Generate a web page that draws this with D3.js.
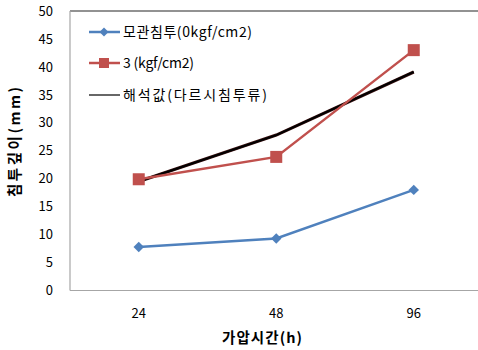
<!DOCTYPE html>
<html><head><meta charset="utf-8">
<script src="https://cdn.jsdelivr.net/npm/d3@7"></script>
<style>body{margin:0;background:#fff;} text{font-family:"Noto Sans CJK KR","Malgun Gothic",sans-serif;}</style>
</head><body>
<svg id="c" width="478" height="350"></svg>
<script>
const categories = ["24","48","96"];
const seriesNames = ["모관침투(0kgf/cm2)","3 (kgf/cm2)","해석값(다르시침투류)"];
const capillary = [7.8, 9.3, 18.0];
const pressure3 = [19.9, 23.9, 43.0];
const analytic = [19.5, 27.8, 39.1];
const yTicks = [0,5,10,15,20,25,30,35,40,45,50];

const svg = d3.select("#c");
const L = 70, R = 482.5, T = 11, B = 290.5;
const x = d3.scaleBand().domain(categories).range([L, R]);
const y = d3.scaleLinear().domain([0, 50]).range([B, T]);
const cx = d => x(d) + x.bandwidth()/2;

// frame
svg.append("line").attr("x1",L).attr("x2",R).attr("y1",T).attr("y2",T).attr("stroke","#6e6e6e").attr("stroke-width",1.5);
svg.append("line").attr("x1",L).attr("x2",L).attr("y1",T).attr("y2",B).attr("stroke","#a6a6a6").attr("stroke-width",1.2);
svg.append("line").attr("x1",L).attr("x2",R).attr("y1",B).attr("y2",B).attr("stroke","#a6a6a6").attr("stroke-width",1.2);

// y axis
const ya = svg.append("g").attr("transform",`translate(${L},0)`)
  .call(d3.axisLeft(y).tickValues(yTicks).tickSize(0).tickPadding(17));
ya.select(".domain").remove();
ya.selectAll("text").attr("font-size",13).attr("fill","#000").style("font-family","'Noto Sans CJK KR',sans-serif");

// x axis
const xa = svg.append("g").attr("transform",`translate(0,${B})`)
  .call(d3.axisBottom(x).tickSize(0).tickPadding(18));
xa.select(".domain").remove();
xa.selectAll("text").attr("font-size",13).attr("fill","#000").style("font-family","'Noto Sans CJK KR',sans-serif");

// titles
svg.append("text").attr("x",262).attr("y",343).attr("text-anchor","middle")
  .attr("font-size",14.5).attr("font-weight","bold").attr("textLength",80).text("가압시간(h)");
svg.append("text").attr("transform","translate(20,142) rotate(-90)").attr("text-anchor","middle")
  .attr("font-size",14.5).attr("font-weight","bold").attr("textLength",110).text("침투깊이(mm)");

const line = d3.line().x((d,i)=>cx(categories[i])).y(d=>y(d));

// analytic (black)
svg.append("path").datum(analytic).attr("d",line).attr("fill","none").attr("stroke","#3a1010").attr("stroke-width",3.2);
svg.append("path").datum(analytic).attr("d",line).attr("fill","none").attr("stroke","#000").attr("stroke-width",2);

// red
svg.append("path").datum(pressure3).attr("d",line).attr("fill","none").attr("stroke","#c0504d").attr("stroke-width",2.5);
svg.selectAll(".sq").data(pressure3).enter().append("rect")
  .attr("x",(d,i)=>cx(categories[i])-6).attr("y",d=>y(d)-6).attr("width",12).attr("height",12).attr("fill","#c0504d");

// blue
svg.append("path").datum(capillary).attr("d",line).attr("fill","none").attr("stroke","#4f81bd").attr("stroke-width",2.5);
svg.selectAll(".dm").data(capillary).enter().append("path")
  .attr("transform",(d,i)=>`translate(${cx(categories[i])},${y(d)}) rotate(45)`)
  .attr("d",d3.symbol().type(d3.symbolSquare).size(55)).attr("fill","#4f81bd");

// legend
const lg = svg.append("g");
const legY = [32, 63, 95];
const legCol = ["#4f81bd","#c0504d","#000"];
const legLen = [129, 71, 144];
seriesNames.forEach((n,i)=>{
  lg.append("line").attr("x1",89).attr("x2",120).attr("y1",legY[i]).attr("y2",legY[i])
    .attr("stroke",legCol[i]).attr("stroke-width", i==2?1.2:2.5);
  if(i==0) lg.append("path").attr("transform",`translate(104,${legY[i]}) rotate(45)`).attr("d",d3.symbol().type(d3.symbolSquare).size(40)).attr("fill",legCol[i]);
  if(i==1) lg.append("rect").attr("x",99).attr("y",legY[i]-5).attr("width",10).attr("height",10).attr("fill",legCol[i]);
  lg.append("text").attr("x",123).attr("y",legY[i]+5).attr("font-size",14).attr("textLength",legLen[i]).text(n);
});
</script>
</body></html>
